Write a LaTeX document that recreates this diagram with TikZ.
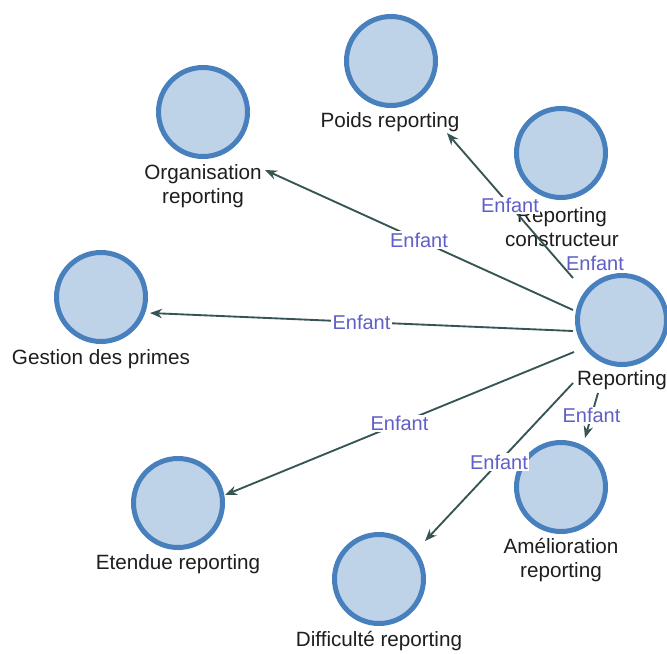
\documentclass[tikz,border=0pt]{standalone}
\usepackage{fontspec}
\setmainfont{Liberation Sans}
\usetikzlibrary{arrows.meta}
\definecolor{cfill}{RGB}{190,210,232}
\definecolor{cdraw}{RGB}{72,128,190}
\definecolor{cedge}{RGB}{55,85,85}
\definecolor{clab}{RGB}{95,95,200}
\definecolor{ctext}{RGB}{30,30,30}
\begin{document}
\begin{tikzpicture}[x=0.75pt,y=-0.75pt,
  ent/.style={circle,draw=cdraw,fill=cfill,line width=3.75pt,minimum size=66.75pt,inner sep=0pt},
  txt/.style={text=ctext,font=\fontsize{15.5}{18}\selectfont,align=center,inner sep=1pt},
  edge/.style={draw=cedge,line width=1.4pt,-{Stealth[length=9pt,width=7pt]}},
  lab/.style={fill=white,text=clab,font=\fontsize{15}{18}\selectfont,inner sep=1pt}]
\useasboundingbox[fill=white] (0,0) rectangle (667,653);
% circles
\node[ent] (rep) at (622,320) {};
\node[ent] (org) at (203,112) {};
\node[ent] (poids) at (391,61) {};
\node[ent] (cons) at (561,153) {};
\node[ent] (gest) at (101,297) {};
\node[ent] (eten) at (178,503) {};
\node[ent] (diff) at (379,579) {};
\node[ent] (amel) at (561,487) {};
% labels
\node[txt] (repl) at (622,380) {Reporting};
\node[txt] (orgl) at (203,186) {Organisation\\reporting};
\node[txt] (poidsl) at (390,122) {Poids reporting};
\node[txt] (consl) at (562,227) {Reporting\\constructeur};
\node[txt] (gestl) at (101,359) {Gestion des primes};
\node[txt] (etenl) at (178,564) {Etendue reporting};
\node[txt] (diffl) at (379,641) {Difficulté reporting};
\node[txt] (amell) at (561,560) {Amélioration\\reporting};
% edge end points
\coordinate (s1) at (573,310); \coordinate (t1) at (265,170);
\coordinate (s2) at (573,331); \coordinate (t2) at (150,313);
\coordinate (s3) at (574,352); \coordinate (t3) at (225,495);
\coordinate (s4) at (573,383); \coordinate (t4) at (425,541);
\coordinate (s5) at (598,393); \coordinate (t5) at (585,438);
\coordinate (s6) at (573,278); \coordinate (t6) at (447,133);
\coordinate (s7) at (598,270); \coordinate (t7) at (592,256);
% edges
\draw[edge] (s7) -- node[lab]{Enfant} (t7);
\draw[edge] (s1) -- node[lab]{Enfant} (t1);
\draw[edge] (s2) -- node[lab]{Enfant} (t2);
\draw[edge] (s3) -- node[lab]{Enfant} (t3);
\draw[edge] (s4) -- node[lab]{Enfant} (t4);
\draw[edge] (s5) -- node[lab]{Enfant} (t5);
\draw[edge] (s6) -- node[lab]{Enfant} (t6);
\end{tikzpicture}
\end{document}
